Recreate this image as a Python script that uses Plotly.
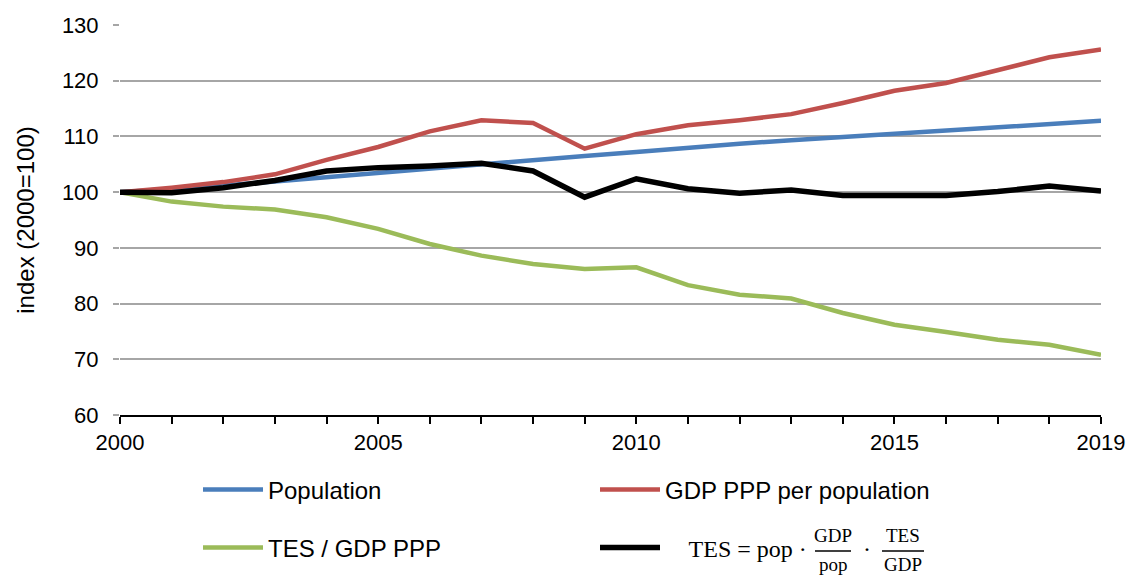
import plotly.graph_objects as go

# 数据：2000=100 的指数
years = list(range(2000, 2020))
population = [100, 100.5, 101.2, 101.9, 102.7, 103.4, 104.2, 105.0, 105.8, 106.5,
              107.2, 108.0, 108.7, 109.3, 109.9, 110.4, 111.1, 111.7, 112.3, 112.8]
gdp_per_pop = [100, 100.8, 101.8, 103.2, 105.8, 108.1, 110.9, 112.9, 112.4, 107.8,
               110.4, 112.0, 112.9, 114.0, 116.0, 118.2, 119.6, 122.0, 124.2, 125.6]
tes_per_gdp = [100, 98.3, 97.4, 96.9, 95.5, 93.4, 90.7, 88.6, 87.1, 86.2,
               86.5, 83.3, 81.6, 80.9, 78.3, 76.2, 74.9, 73.5, 72.6, 70.8]
tes = [100, 99.9, 100.8, 102.1, 103.8, 104.4, 104.7, 105.2, 103.8, 99.1,
       102.4, 100.6, 99.8, 100.4, 99.4, 99.4, 99.4, 100.1, 101.1, 100.2]

x_labels = {2000: "2000", 2005: "2005", 2010: "2010", 2015: "2015", 2019: "2019"}
y_ticks = [60, 70, 80, 90, 100, 110, 120, 130]

serif = "Liberation Serif, DejaVu Serif, serif"
sans = "Liberation Sans, Arial"

W, H = 1129, 577

fig = go.Figure()

fig.add_trace(go.Scatter(x=years, y=population, name="Population", mode="lines",
                         line=dict(color="#4A7EBB", width=4.5), cliponaxis=False,
                         legend="legend"))
fig.add_trace(go.Scatter(x=years, y=gdp_per_pop, name="GDP PPP per population", mode="lines",
                         line=dict(color="#C0504D", width=4.5), cliponaxis=False,
                         legend="legend"))
fig.add_trace(go.Scatter(x=years, y=tes_per_gdp, name="TES / GDP PPP", mode="lines",
                         line=dict(color="#9BBB59", width=4.5), cliponaxis=False,
                         legend="legend2"))
fig.add_trace(go.Scatter(x=years, y=tes, mode="lines",
                         name='<span style="font-family:Liberation Serif">    TES = pop ·</span>',
                         line=dict(color="black", width=5.5), cliponaxis=False,
                         legend="legend2"))

# 公式里的两个分数（图例里写不了分数，用注释补上）
def px_x(p):
    return (p - 120) / 981

def px_y(p):
    return (415 - p) / 390

fracs = [(833, 18, "GDP", "pop"), (903, 21, "TES", "GDP")]
for cx, half, num, den in fracs:
    fig.add_annotation(x=px_x(cx), y=px_y(535), xref="paper", yref="paper", text=num,
                       xanchor="center", yanchor="middle", showarrow=False,
                       font=dict(family=serif, size=19, color="black"))
    fig.add_annotation(x=px_x(cx), y=px_y(564), xref="paper", yref="paper", text=den,
                       xanchor="center", yanchor="middle", showarrow=False,
                       font=dict(family=serif, size=19, color="black"))
    fig.add_shape(type="line", xref="paper", yref="paper",
                  x0=px_x(cx - half), x1=px_x(cx + half), y0=px_y(551), y1=px_y(551),
                  line=dict(color="black", width=1.3))
fig.add_annotation(x=px_x(867), y=px_y(549), xref="paper", yref="paper", text="·",
                   xanchor="center", yanchor="middle", showarrow=False,
                   font=dict(family=serif, size=24, color="black"))

legend_common = dict(orientation="h", xanchor="left", yanchor="middle",
                     xref="container", yref="container",
                     entrywidth=322, entrywidthmode="pixels", itemwidth=60,
                     font=dict(family=sans, size=24, color="black"),
                     bgcolor="rgba(0,0,0,0)")

fig.update_layout(
    width=W, height=H,
    margin=dict(l=120, r=28, t=25, b=162, autoexpand=False),
    paper_bgcolor="white", plot_bgcolor="white",
    font=dict(family=sans, size=22, color="black"),
    showlegend=True,
    legend=dict(x=(205 - 7) / W, y=1 - 490 / H, **legend_common),
    legend2=dict(x=(205 - 7) / W, y=1 - 548 / H, **legend_common),
    xaxis=dict(range=[2000, 2019], tickvals=years,
               ticktext=[x_labels.get(y, "") for y in years],
               showgrid=False, zeroline=False, automargin=False,
               showline=True, linecolor="black", linewidth=1.5,
               ticks="outside", ticklen=7, tickwidth=1.5, tickcolor="black",
               tickfont=dict(size=22)),
    yaxis=dict(range=[60, 130], tickvals=y_ticks, automargin=False,
               title=dict(text="index (2000=100)", font=dict(size=24), standoff=20),
               showgrid=True, gridcolor="#A6A6A6", gridwidth=1.5,
               zeroline=False, showline=False,
               ticks="outside", ticklen=6, tickwidth=1.5, tickcolor="#A6A6A6",
               ticklabelstandoff=10,
               tickfont=dict(size=22)),
)

# 去掉页面默认边距，让图从左上角开始
fig.write_html("out.html", config={"displayModeBar": False},
               post_script="document.body.style.margin='0';document.body.style.overflow='hidden';")
